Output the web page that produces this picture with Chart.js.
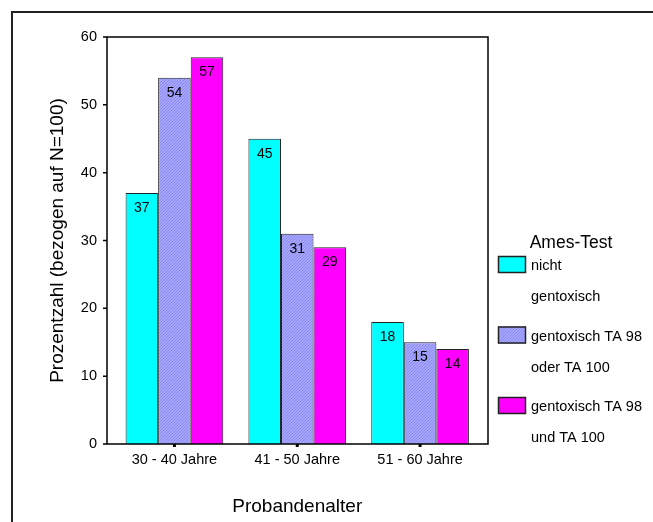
<!DOCTYPE html>
<html>
<head>
<meta charset="utf-8">
<script src="https://cdn.jsdelivr.net/npm/chart.js@4"></script>
<style>
  html, body { margin: 0; padding: 0; background: #fff; }
  #wrap { width: 653px; height: 522px; position: relative; }
</style>
</head>
<body>
<div id="wrap"><canvas id="c" width="653" height="522"></canvas></div>
<script>
// Age groups and the share of subjects per Ames-test outcome (percent, N=100)
const categories = ['30 - 40 Jahre', '41 - 50 Jahre', '51 - 60 Jahre'];
const seriesNames = [['nicht', 'gentoxisch'], ['gentoxisch TA 98', 'oder TA 100'], ['gentoxisch TA 98', 'und TA 100']];
const nichtGentoxisch = [37, 45, 18];
const gentoxischOder = [54, 31, 15];
const gentoxischUnd = [57, 29, 14];
const yTicks = [0, 10, 20, 30, 40, 50, 60];

const FONT = 'Arial, "Liberation Sans", sans-serif';

// fine diagonal hatch used for the "oder" series
function hatch() {
  const p = document.createElement('canvas');
  p.width = 3; p.height = 3;
  const g = p.getContext('2d');
  g.fillStyle = '#a6a6ff';
  g.fillRect(0, 0, 3, 3);
  g.fillStyle = '#8a8aee';
  for (let i = 0; i < 3; i++) g.fillRect(i, 2 - i, 1, 1);
  return g.createPattern(p, 'repeat');
}
const hatchFill = hatch();
const fills = ['#00ffff', hatchFill, '#ff00ff'];

// outer frame, plot box, tick marks, value labels and legend
const decor = {
  id: 'decor',
  beforeDraw(chart) {
    const ctx = chart.ctx;
    ctx.save();
    ctx.strokeStyle = '#222';
    ctx.lineWidth = 2;
    ctx.beginPath();
    ctx.moveTo(12, 522);
    ctx.lineTo(12, 12);
    ctx.lineTo(653, 12);
    ctx.stroke();
    ctx.restore();
  },
  afterDatasetsDraw(chart) {
    const ctx = chart.ctx;
    const a = chart.chartArea;
    const x = chart.scales.x, y = chart.scales.y;
    const L = a.left - 6, R = a.right + 6.5;
    ctx.save();
    ctx.strokeStyle = '#000';
    ctx.lineWidth = 1.5;
    ctx.strokeRect(L, a.top, R - L, a.bottom - a.top);
    ctx.beginPath();
    ctx.moveTo(L - 4, a.bottom);
    ctx.lineTo(L, a.bottom);
    yTicks.forEach(v => {
      const py = y.getPixelForValue(v);
      ctx.moveTo(L - 4, py);
      ctx.lineTo(L, py);
    });
    ctx.stroke();
    ctx.fillStyle = '#000';
    categories.forEach((c, i) => {
      const px = x.getPixelForValue(i);
      ctx.fillRect(px - 1.5, a.bottom, 3, 3);
    });

    // values inside the top of each bar
    ctx.font = '14px ' + FONT;
    ctx.textAlign = 'center';
    ctx.textBaseline = 'middle';
    chart.data.datasets.forEach((ds, di) => {
      chart.getDatasetMeta(di).data.forEach((bar, i) => {
        ctx.fillText(String(ds.data[i]), bar.x, bar.y + 15);
      });
    });

    // legend
    ctx.textAlign = 'center';
    ctx.font = '17.5px ' + FONT;
    ctx.fillText('Ames-Test', 571, 243);
    ctx.font = '14.5px ' + FONT;
    ctx.textAlign = 'left';
    chart.data.datasets.forEach((ds, di) => {
      const top = 256 + 70.5 * di;
      ctx.fillStyle = ds.backgroundColor;
      ctx.fillRect(498, top, 28, 17);
      ctx.strokeStyle = '#222';
      ctx.lineWidth = 1.5;
      ctx.strokeRect(498.5, top + 0.5, 27, 16);
      ctx.fillStyle = '#000';
      ds.legendLines.forEach((t, k) => ctx.fillText(t, 531, top + 10 + 31 * k));
    });
    ctx.restore();
  }
};

const series = [nichtGentoxisch, gentoxischOder, gentoxischUnd];

new Chart(document.getElementById('c'), {
  type: 'bar',
  data: {
    labels: categories,
    datasets: series.map((vals, i) => ({
      label: seriesNames[i].join(' '),
      legendLines: seriesNames[i],
      data: vals,
      backgroundColor: fills[i],
      borderColor: '#222',
      borderWidth: 1,
      borderSkipped: 'bottom',
      categoryPercentage: 0.795,
      barPercentage: 1.0
    }))
  },
  options: {
    responsive: false,
    animation: false,
    devicePixelRatio: 1,
    layout: { padding: { left: 12, top: 37, right: 171.5, bottom: 0 } },
    plugins: { legend: { display: false }, tooltip: { enabled: false } },
    scales: {
      x: {
        grid: { display: false, drawTicks: false },
        border: { display: false },
        ticks: { color: '#000', font: { family: FONT, size: 14.5 }, padding: 7, maxRotation: 0 },
        title: { display: true, text: 'Probandenalter', color: '#000', font: { family: FONT, size: 19 }, padding: { top: 0, bottom: 4 } },
        afterFit(s) { s.height = 78; }
      },
      y: {
        min: 0, max: 60,
        afterBuildTicks(s) { s.ticks = yTicks.map(v => ({ value: v })); },
        grid: { display: false, drawTicks: false },
        border: { display: false },
        ticks: { color: '#000', font: { family: FONT, size: 14.5 }, padding: 16 },
        title: { display: true, text: 'Prozentzahl (bezogen auf N=100)', color: '#000', font: { family: FONT, size: 19 }, padding: { top: 34, bottom: 0 } },
        afterFit(s) { s.width = 101; }
      }
    }
  },
  plugins: [decor]
});
</script>
</body>
</html>
